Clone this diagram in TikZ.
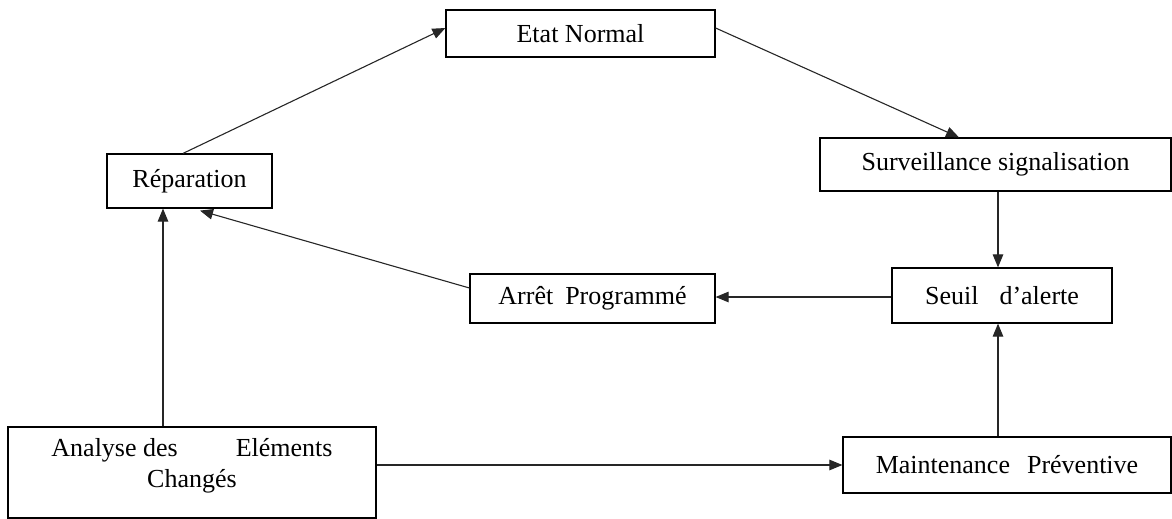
\documentclass[tikz,border=0pt]{standalone}
\usepackage{fontspec}
\setmainfont{Liberation Serif}
\usetikzlibrary{arrows.meta}
\begin{document}
\begin{tikzpicture}[x=1pt,y=1pt,
  box/.style={draw=black, line width=1.2pt, inner sep=0pt, align=center,
    font=\fontsize{26}{31}\selectfont},
  arr/.style={draw=black!85, line width=1.1pt, -{Triangle[length=13pt,width=10.5pt]}}]
\useasboundingbox (0,0) rectangle (1172,-519);
% boxes of the maintenance cycle
\node[box, minimum width=269pt, minimum height=47pt] (en) at (580.5,-33.5) {Etat Normal};
\node[box, minimum width=165pt, minimum height=54pt] (rep) at (189.5,-181) {Réparation};
\node[box, minimum width=351pt, minimum height=53pt] (surv) at (995.5,-164.5) {Surveillance signalisation};
\node[box, minimum width=220pt, minimum height=55pt] (seuil) at (1002,-295.5) {Seuil\hspace{21pt}d’alerte};
\node[box, minimum width=245pt, minimum height=49pt] (arret) at (592.5,-298.5) {Arrêt\hspace{12pt}Programmé};
\node[box, minimum width=368pt, minimum height=91pt] (ana) at (192,-472.5)
  {\raisebox{0pt}[0pt][0pt]{\begin{tabular}{@{}c@{}}Analyse des\hspace{58pt}Eléments\\Changés\end{tabular}}};
\node[box, minimum width=328pt, minimum height=56pt] (maint) at (1007,-465) {Maintenance\hspace{17pt}Préventive};
% connectors
\draw[arr] ([xshift=-6.5pt]rep.north) -- ([yshift=5.5pt]en.west);
\draw[arr] ([yshift=5.5pt]en.east) -- ([xshift=-36.5pt]surv.north);
\draw[arr] ([xshift=-4pt]seuil.north |- surv.south) -- ([xshift=-4pt]seuil.north);
\draw[arr] ([yshift=-1.5pt]seuil.west) -- ([yshift=-1.5pt]seuil.west -| arret.east);
\draw[arr] ([yshift=10.5pt]arret.west) -- ([xshift=10.5pt,yshift=-2pt]rep.south);
\draw[arr] ([xshift=-29pt]ana.north) -- ([xshift=-29pt]ana.north |- rep.south);
\draw[arr] (maint.west -| ana.east) -- (maint.west);
\draw[arr] ([xshift=-4pt]seuil.south |- maint.north) -- ([xshift=-4pt]seuil.south);
\end{tikzpicture}
\end{document}
